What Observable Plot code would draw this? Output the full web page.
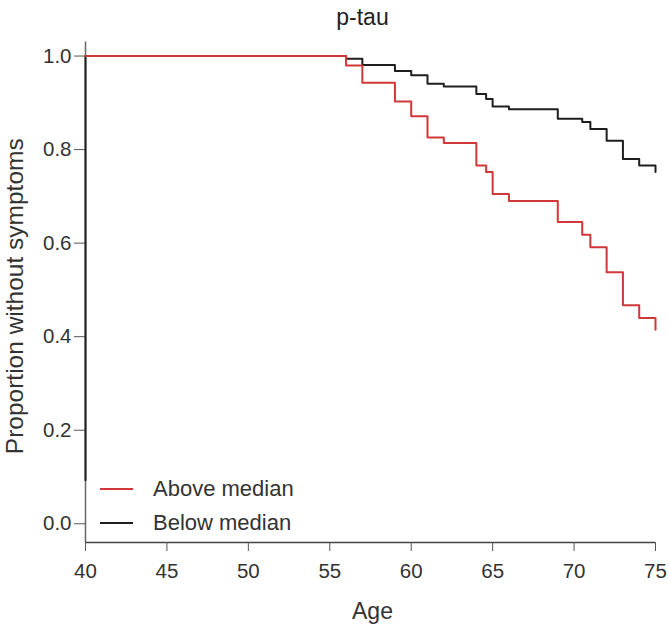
<!DOCTYPE html>
<html>
<head>
<meta charset="utf-8">
<script src="https://cdn.jsdelivr.net/npm/d3@7"></script>
<script src="https://cdn.jsdelivr.net/npm/@observablehq/plot@0.6"></script>
<style>
  html, body { margin: 0; padding: 0; background: #fff; }
  #wrap { position: relative; width: 668px; height: 625px; font-family: "Liberation Sans", Arial, sans-serif; }
  .legend { position: absolute; left: 100px; top: 472px; font-size: 22px; color: #333; }
  .legend .row { display: flex; align-items: center; height: 34px; }
  .legend .sw { width: 33px; height: 0; border-top: 2px solid; margin-right: 20px; }
</style>
</head>
<body>
<div id="wrap"></div>
<script>
// ---- data ----
const title = "p-tau";
const xLabel = "Age";
const yLabel = "Proportion without symptoms";
const seriesNames = ["Above median", "Below median"];
const seriesColors = ["#d03838", "#1e1e1e"];

const aboveAge  = [40, 56, 57, 59, 60, 61, 62, 64, 64.6, 65, 66, 69, 70.5, 71, 72, 73, 74, 75, 75];
const aboveProp = [1.0, 0.980, 0.943, 0.903, 0.871, 0.826, 0.814, 0.766, 0.752, 0.705, 0.690, 0.645, 0.618, 0.591, 0.538, 0.467, 0.440, 0.440, 0.415];

const belowAge  = [40, 40, 56, 57, 59, 60, 61, 62, 64, 64.6, 65, 66, 69, 70.5, 71, 72, 73, 74, 75, 75];
const belowProp = [0.093, 1.0, 0.994, 0.981, 0.968, 0.959, 0.941, 0.935, 0.919, 0.908, 0.892, 0.886, 0.866, 0.859, 0.844, 0.819, 0.780, 0.766, 0.766, 0.752];

const xTicks = [40, 45, 50, 55, 60, 65, 70, 75];
const yTicks = [0, 0.2, 0.4, 0.6, 0.8, 1.0];
const xDomain = [40, 75];
const yDomain = [-0.04, 1.03];

// ---- build ----
const above = aboveAge.map((a, i) => ({age: a, p: aboveProp[i]}));
const below = belowAge.map((a, i) => ({age: a, p: belowProp[i]}));

const chart = Plot.plot({
  width: 668,
  height: 625,
  marginLeft: 85,
  marginRight: 13,
  marginTop: 41.5,
  marginBottom: 83,
  style: {fontFamily: "Liberation Sans, Arial, sans-serif", fontSize: "20px", color: "#333", background: "#fff"},
  x: {domain: xDomain},
  y: {domain: yDomain},
  marks: [
    Plot.ruleX([xDomain[0]], {stroke: "#666", strokeWidth: 1.5}),
    Plot.ruleY([yDomain[0]], {stroke: "#444", strokeWidth: 1.5}),
    Plot.axisY({ticks: yTicks, tickFormat: d3.format(".1f"), tickSize: 11, tickPadding: 3, label: null, stroke: "#555", fontSize: 20.5}),
    Plot.axisX({ticks: xTicks, tickSize: 9, tickPadding: 12, label: null, stroke: "#555", fontSize: 20.5}),
    Plot.line(below, {x: "age", y: "p", curve: "step-after", stroke: seriesColors[1], strokeWidth: 2}),
    Plot.line(above, {x: "age", y: "p", curve: "step-after", stroke: seriesColors[0], strokeWidth: 2}),
    Plot.text([title], {frameAnchor: "top", lineAnchor: "bottom", dy: -17, dx: -8, fontSize: 23, fill: "#222"}),
    Plot.text([xLabel], {frameAnchor: "bottom", lineAnchor: "top", dy: 60, dx: 2, fontSize: 23, fill: "#333"}),
    Plot.text([yLabel], {frameAnchor: "left", rotate: -90, textAnchor: "middle", lineAnchor: "middle", dx: -70, dy: 4, fontSize: 24.5, fill: "#333"})
  ]
});

const wrap = document.getElementById("wrap");
wrap.appendChild(chart);

const legend = document.createElement("div");
legend.className = "legend";
seriesNames.forEach((name, i) => {
  const row = document.createElement("div");
  row.className = "row";
  const sw = document.createElement("span");
  sw.className = "sw";
  sw.style.borderTopColor = seriesColors[i];
  const t = document.createElement("span");
  t.textContent = name;
  row.appendChild(sw);
  row.appendChild(t);
  legend.appendChild(row);
});
wrap.appendChild(legend);
</script>
</body>
</html>
